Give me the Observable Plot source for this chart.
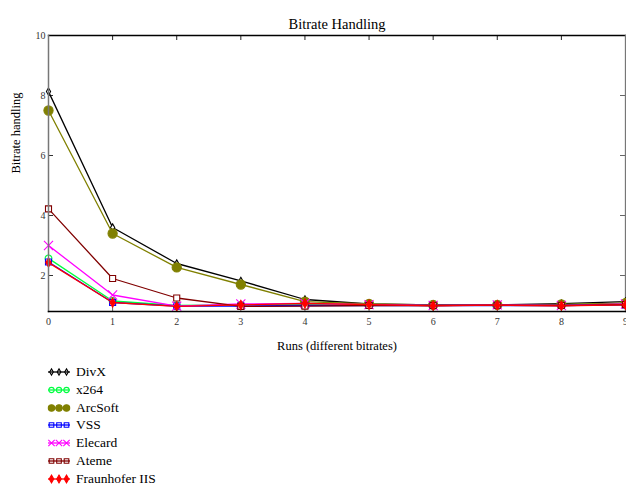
<!DOCTYPE html>
<html><head><meta charset="utf-8">
<script src="https://cdn.jsdelivr.net/npm/d3@7"></script>
<script src="https://cdn.jsdelivr.net/npm/@observablehq/plot@0.6"></script>
<style>
body{margin:0;background:#fff;font-family:"Liberation Serif","Times New Roman",serif;}
#wrap{position:relative;width:626px;height:485px;overflow:hidden;background:#fff}
#legend{position:absolute;left:47px;top:363px;}
.row{display:flex;align-items:center;height:17.85px;font-size:13.5px;color:#000}
.row svg{margin-right:5px}
</style></head><body><div id="wrap"><div id="chart"></div><div id="legend"></div></div>
<script>
const runs = [0, 1, 2, 3, 4, 5, 6, 7, 8, 9];
const seriesNames = ["DivX", "x264", "ArcSoft", "VSS", "Elecard", "Ateme", "Fraunhofer IIS"];
const seriesColors = ["#000000", "#00ff40", "#808000", "#0000ff", "#ff00ff", "#800000", "#ff0000"];
const seriesSymbols = ["diamond", "circle", "circle", "square", "times", "square", "diamond"];
const seriesFilled = [false, false, true, false, false, false, true];
const seriesR = [2.2, 3.4, 4.6, 3.4, 4.2, 3.4, 2.8];
const legendR = [1.9, 2.6, 3.2, 2.6, 3.0, 2.6, 2.4];
const divx = [8.13, 3.6, 2.4, 1.82, 1.2, 1.05, 1.02, 1.02, 1.06, 1.13];
const x264 = [2.57, 1.15, 1.0, 1.02, 1.05, 1.03, 1.0, 1.02, 1.03, 1.05];
const arcsoft = [7.5, 3.4, 2.27, 1.7, 1.13, 1.05, 1.02, 1.02, 1.04, 1.08];
const vss = [2.45, 1.1, 0.98, 0.98, 1.0, 1.0, 1.0, 1.0, 1.0, 1.02];
const elecard = [3.0, 1.35, 0.98, 1.05, 1.07, 1.03, 1.0, 1.02, 1.0, 1.05];
const ateme = [4.22, 1.9, 1.25, 0.97, 0.98, 1.0, 1.0, 1.01, 1.0, 1.03];
const fraunhofer = [2.43, 1.1, 0.97, 1.02, 1.07, 1.03, 0.99, 1.01, 0.99, 1.02];
const seriesValues = [divx, x264, arcsoft, vss, elecard, ateme, fraunhofer];
const xTicks = [0, 1, 2, 3, 4, 5, 6, 7, 8, 9];
const yTicks = [2, 4, 6, 8, 10];
const title = "Bitrate Handling";
const xLabel = "Runs (different bitrates)";
const yLabel = "Bitrate handling";

const W = 626, H = 360, mL = 48, mR = 1, mT = 35, mB = 49;
const innerW = W - mL - mR, innerH = H - mT - mB, tk = 5;

const seriesMarks = [];
seriesNames.forEach((name, i) => {
  const data = runs.map((r, j) => ({run: r, value: seriesValues[i][j]}));
  const c = seriesColors[i];
  seriesMarks.push(Plot.line(data, {x: "run", y: "value", stroke: c, strokeWidth: 1.3}));
  seriesMarks.push(Plot.dot(data, {x: "run", y: "value", symbol: () => seriesSymbols[i], r: seriesR[i],
    stroke: c, fill: seriesFilled[i] ? c : "white", strokeWidth: 1.1}));
});

const chart = Plot.plot({
  width: W, height: H,
  marginLeft: mL, marginRight: mR, marginTop: mT, marginBottom: mB,
  style: {fontFamily: "'Liberation Serif','Times New Roman',serif", fontSize: "10px", background: "#fff", overflow: "visible"},
  x: {domain: [0, 9]},
  y: {domain: [0.8, 10]},
  symbol: {type: "identity"},
  marks: [
    Plot.axisX({ticks: xTicks, tickSize: 0, tickPadding: 6, tickFormat: d => String(d), label: null, fill: "#333"}),
    Plot.axisY({ticks: yTicks, tickSize: 0, tickPadding: 3, tickFormat: d => String(d), label: null, fill: "#333"}),
    Plot.ruleX(xTicks, {x: d => d, insetTop: innerH - tk, stroke: "#666"}),
    Plot.ruleX(xTicks, {x: d => d, insetBottom: innerH - tk, stroke: "#222"}),
    Plot.ruleY(yTicks, {y: d => d, insetRight: innerW - tk, stroke: "#333"}),
    Plot.ruleY(yTicks, {y: d => d, insetLeft: innerW - tk, stroke: "#666"}),
    Plot.frame({anchor: "top", stroke: "#000", strokeWidth: 1.3}),
    Plot.frame({anchor: "right", stroke: "#777", strokeWidth: 1.3}),
    ...seriesMarks,
    Plot.frame({anchor: "left", stroke: "#777", strokeWidth: 1.5}),
    Plot.frame({anchor: "bottom", stroke: "#000", strokeWidth: 1.5}),
    Plot.text([title], {frameAnchor: "top", dy: -17, fontSize: 14.5, fill: "#000"}),
    Plot.text([xLabel], {frameAnchor: "bottom", dy: 38, fontSize: 12.5, fill: "#000"}),
    Plot.text([yLabel], {frameAnchor: "left", dx: -33, rotate: -90, fontSize: 12.5, fill: "#000"})
  ]
});
document.getElementById("chart").appendChild(chart);

const legend = d3.select("#legend");
seriesNames.forEach((name, i) => {
  const row = legend.append("div").attr("class", "row");
  const svg = row.append("svg").attr("width", 24).attr("height", 12);
  const c = seriesColors[i];
  svg.append("line").attr("x1", 1).attr("x2", 23).attr("y1", 6).attr("y2", 6).attr("stroke", c).attr("stroke-width", 1.3);
  const symType = {diamond: d3.symbolDiamond, circle: d3.symbolCircle, square: d3.symbolSquare, times: d3.symbolTimes}[seriesSymbols[i]];
  const r = legendR[i];
  [4.5, 12, 19.5].forEach(cx => {
    svg.append("path").attr("d", d3.symbol(symType, r * r * Math.PI)())
      .attr("transform", `translate(${cx},6)`)
      .attr("stroke", c).attr("stroke-width", 1.1)
      .attr("fill", seriesFilled[i] ? c : "none");
  });
  row.append("span").text(name);
});
</script></body></html>
